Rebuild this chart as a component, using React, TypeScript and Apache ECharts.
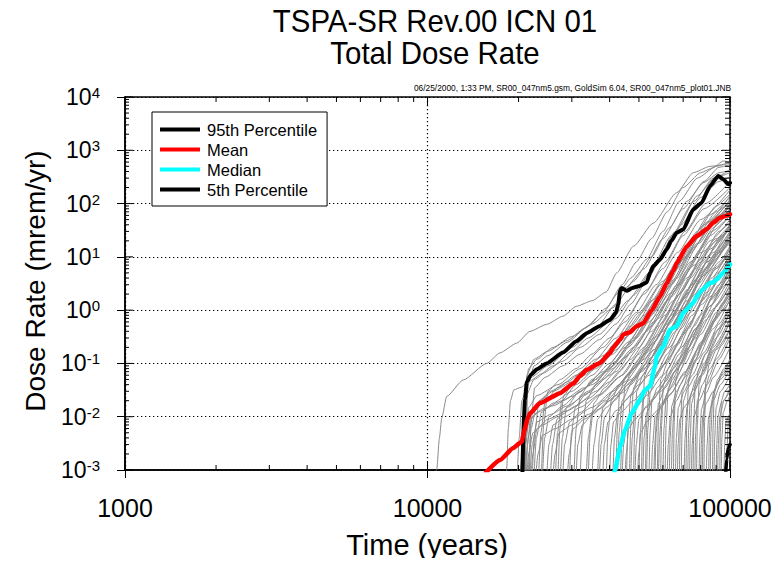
import React, { useEffect, useRef } from "react";
import * as echarts from "echarts";

const FONT = "'Liberation Sans', Arial, Helvetica, sans-serif";

type Pt = [number, number];

// Summary statistics of total dose rate (mrem/yr) vs time (years)
const p95: Pt[] = [
  [20600, 0.0009], [20700, 0.003], [20850, 0.01], [21000, 0.021], [21300, 0.045],
  [22000, 0.062], [23000, 0.078], [24750, 0.1], [28050, 0.16], [31040, 0.26],
  [33600, 0.37], [37000, 0.5], [40120, 0.66], [42000, 0.9], [42740, 1.3],
  [43300, 2.3], [43850, 2.6], [45550, 2.3], [47500, 2.6], [49770, 2.8],
  [53030, 3.3], [54390, 5.0], [55780, 6.7], [58700, 8.9], [61760, 13.8],
  [64000, 20], [66650, 28.4], [70080, 32.8], [75620, 78], [80620, 104],
  [85890, 214], [91470, 330], [95000, 286], [98700, 231], [100000, 245],
];

const mean: Pt[] = [
  [15600, 0.0009], [17370, 0.00154], [19210, 0.0026], [20480, 0.0034], [20900, 0.0055],
  [21400, 0.009], [21820, 0.0116], [23540, 0.018], [27420, 0.0277], [30340, 0.042],
  [31920, 0.058], [33600, 0.076], [37170, 0.102], [40120, 0.158], [41140, 0.2],
  [43300, 0.28], [44390, 0.35], [46500, 0.38], [49160, 0.5], [51690, 0.57],
  [55090, 1.0], [58700, 1.8], [61760, 3.2], [64950, 5.5], [66650, 7.6],
  [71920, 15.7], [77600, 24.5], [83750, 33], [88070, 44], [92650, 54],
  [96000, 58], [100000, 63],
];

const median: Pt[] = [
  [41500, 0.0009], [41680, 0.001], [43300, 0.0027], [44970, 0.0056], [47320, 0.0116],
  [50410, 0.021], [52360, 0.032], [54390, 0.037], [56490, 0.088], [57230, 0.136],
  [60190, 0.21], [63340, 0.43], [66650, 0.5], [70080, 0.89], [75620, 1.37],
  [77600, 1.8], [81000, 2.4], [85890, 3.26], [88000, 3.3], [90360, 3.76],
  [95000, 5.0], [100000, 7.2],
];

const p5: Pt[] = [
  [96800, 0.0009], [97500, 0.0016], [98700, 0.0026], [100000, 0.003],
];

// Individual realizations
const realizations: Pt[][] = [
  [[10500, 0.0008], [10725, 0.001], [10950, 0.004], [11140, 0.0093], [11570, 0.024], [13130, 0.049], [15700, 0.1], [17370, 0.158], [19720, 0.24], [21820, 0.4], [24750, 0.54], [28050, 0.77], [31040, 1.18], [35000, 1.5], [39000, 2.2], [42200, 5.0], [47900, 15.7], [55780, 43], [66650, 160], [75620, 380], [85890, 500], [100000, 570]],
  [[18100, 0.0008], [18270, 0.001], [18500, 0.006], [18800, 0.02], [19300, 0.032], [20500, 0.036], [22000, 0.055], [25000, 0.09], [30000, 0.2], [36000, 0.45], [42000, 1.3], [48000, 3.5], [55000, 10], [63000, 35], [72000, 110], [82000, 250], [92000, 380], [100000, 420]],
  [[20300, 0.0008], [20600, 0.003], [21000, 0.03], [21600, 0.08], [23000, 0.12], [26000, 0.2], [30000, 0.32], [35000, 0.55], [41000, 1.1], [45000, 2.6], [52000, 6], [60000, 22], [70000, 80], [82000, 260], [92000, 480], [100000, 540]],
  [[20500, 0.0008], [20800, 0.005], [21200, 0.025], [22500, 0.05], [26000, 0.09], [30000, 0.17], [34000, 0.3], [40000, 0.6], [46000, 1.5], [54000, 5], [64000, 25], [76000, 110], [88000, 300], [100000, 380]],
  [[20800, 0.0008], [21100, 0.004], [21600, 0.015], [23000, 0.025], [27000, 0.04], [32000, 0.08], [38000, 0.2], [45000, 0.6], [52000, 2], [60000, 6], [70000, 25], [82000, 80], [100000, 200]],
  [[21000, 0.0008], [21400, 0.003], [22000, 0.012], [24000, 0.022], [28000, 0.03], [33000, 0.06], [40000, 0.16], [47000, 0.5], [55000, 1.5], [65000, 6], [78000, 30], [90000, 90], [100000, 150]],
  [[21500, 0.0008], [22000, 0.006], [23000, 0.018], [26000, 0.03], [30000, 0.045], [36000, 0.09], [42000, 0.25], [50000, 0.9], [60000, 3.5], [72000, 15], [85000, 60], [100000, 130]],
  [[19800, 0.0008], [20100, 0.004], [20500, 0.02], [21500, 0.045], [24000, 0.065], [28000, 0.11], [32000, 0.2], [37000, 0.35], [42000, 0.7], [48000, 1.9], [56000, 6.5], [66000, 30], [78000, 140], [90000, 320], [100000, 420]],
  [[20600, 0.0008], [20900, 0.01], [21300, 0.06], [22500, 0.12], [25000, 0.17], [29000, 0.27], [33000, 0.45], [38000, 0.9], [43000, 2.2], [47000, 4], [53000, 9], [60000, 30], [68000, 110], [78000, 300], [90000, 500], [100000, 600]],
  [[21000, 0.0008], [21200, 0.006], [21500, 0.04], [22500, 0.09], [25000, 0.14], [29000, 0.25], [34000, 0.5], [39000, 1.1], [44000, 3], [49000, 8], [55000, 22], [62000, 70], [70000, 200], [80000, 380], [88000, 470], [95000, 630], [100000, 600]],
  [[20900, 0.0008], [21100, 0.003], [21600, 0.008], [23000, 0.012], [26000, 0.016], [30000, 0.024], [35000, 0.04], [41000, 0.09], [48000, 0.3], [56000, 1.0], [66000, 4], [78000, 18], [90000, 55], [100000, 85]],
  [[21200, 0.0008], [21500, 0.004], [22200, 0.01], [24000, 0.014], [28000, 0.02], [33000, 0.035], [39000, 0.07], [46000, 0.2], [54000, 0.6], [63000, 2], [74000, 8], [87000, 30], [100000, 60]],
  [[22000, 0.0008], [22300, 0.002], [23000, 0.006], [25000, 0.009], [29000, 0.013], [34000, 0.022], [40000, 0.045], [47000, 0.12], [55000, 0.4], [65000, 1.5], [77000, 6], [90000, 20], [100000, 35]],
  [[22500, 0.0008], [22900, 0.004], [23800, 0.012], [26000, 0.018], [30000, 0.03], [35000, 0.06], [41000, 0.15], [48000, 0.45], [56000, 1.6], [66000, 6], [78000, 25], [90000, 70], [100000, 110]],
  [[24000, 0.0008], [24400, 0.004], [25200, 0.01], [28000, 0.016], [32000, 0.03], [38000, 0.07], [45000, 0.2], [53000, 0.7], [62000, 2.5], [74000, 12], [88000, 45], [100000, 90]],
  [[25500, 0.0008], [25900, 0.003], [26800, 0.009], [29000, 0.015], [34000, 0.03], [40000, 0.08], [47000, 0.25], [55000, 0.8], [64000, 3], [76000, 15], [88000, 50], [100000, 75]],
  [[26500, 0.0008], [26900, 0.005], [27800, 0.02], [31000, 0.04], [36000, 0.08], [42000, 0.18], [49000, 0.5], [57000, 1.5], [67000, 6], [80000, 30], [100000, 120]],
  [[28000, 0.0008], [28400, 0.003], [29500, 0.008], [32000, 0.012], [37000, 0.025], [44000, 0.06], [52000, 0.2], [61000, 0.8], [72000, 4], [86000, 20], [100000, 50]],
  [[29500, 0.0008], [29900, 0.005], [30800, 0.015], [33000, 0.025], [38000, 0.05], [45000, 0.13], [53000, 0.4], [62000, 1.5], [73000, 6], [86000, 25], [100000, 60]],
  [[31000, 0.0008], [31400, 0.003], [32500, 0.007], [35000, 0.011], [40000, 0.02], [47000, 0.05], [56000, 0.18], [66000, 0.8], [78000, 3.5], [90000, 12], [100000, 25]],
  [[32000, 0.0008], [32500, 0.006], [33500, 0.02], [36000, 0.04], [41000, 0.08], [48000, 0.2], [56000, 0.6], [65000, 2.2], [76000, 9], [88000, 35], [100000, 80]],
  [[33500, 0.0008], [34000, 0.004], [35000, 0.012], [38000, 0.02], [43000, 0.04], [50000, 0.1], [58000, 0.35], [68000, 1.4], [80000, 6], [92000, 20], [100000, 35]],
  [[35000, 0.0008], [35500, 0.003], [36500, 0.009], [39000, 0.015], [44000, 0.028], [51000, 0.07], [60000, 0.25], [70000, 1], [82000, 4.5], [100000, 22]],
  [[36500, 0.0008], [37000, 0.004], [38000, 0.015], [41000, 0.03], [46000, 0.06], [53000, 0.16], [62000, 0.55], [72000, 2], [84000, 8], [100000, 40]],
  [[38000, 0.0008], [38400, 0.003], [39500, 0.008], [42000, 0.013], [47000, 0.025], [54000, 0.06], [63000, 0.2], [74000, 0.9], [87000, 4], [100000, 15]],
  [[39000, 0.0008], [39500, 0.005], [40500, 0.02], [43000, 0.04], [48000, 0.08], [55000, 0.22], [64000, 0.8], [75000, 3], [88000, 12], [100000, 30]],
  [[23300, 0.0008], [23700, 0.005], [24500, 0.02], [27000, 0.035], [31000, 0.06], [36000, 0.12], [42000, 0.3], [49000, 0.9], [57000, 3], [67000, 12], [80000, 50], [100000, 180]],
  [[27500, 0.0008], [27900, 0.004], [28800, 0.015], [31500, 0.028], [36000, 0.05], [42000, 0.11], [49000, 0.3], [57000, 1], [67000, 4], [79000, 18], [92000, 60], [100000, 95]],
  [[30500, 0.0008], [31000, 0.006], [32000, 0.025], [35000, 0.05], [40000, 0.1], [46000, 0.25], [53000, 0.7], [61000, 2.5], [71000, 10], [84000, 45], [100000, 140]],
  [[34000, 0.0008], [34500, 0.005], [35500, 0.018], [38500, 0.035], [43000, 0.07], [50000, 0.2], [58000, 0.7], [68000, 3], [80000, 14], [92000, 45], [100000, 70]],
  [[37000, 0.0008], [37500, 0.003], [38500, 0.01], [41500, 0.02], [46000, 0.04], [53000, 0.1], [62000, 0.35], [72000, 1.5], [85000, 7], [100000, 28]],
  [[41000, 0.0008], [41500, 0.004], [42500, 0.012], [45000, 0.02], [50000, 0.04], [57000, 0.1], [66000, 0.4], [77000, 1.6], [90000, 6], [100000, 12]],
  [[42500, 0.0008], [43000, 0.005], [44000, 0.02], [47000, 0.04], [52000, 0.08], [59000, 0.22], [68000, 0.8], [79000, 3.2], [92000, 12], [100000, 20]],
  [[44000, 0.0008], [44500, 0.003], [45500, 0.008], [48000, 0.013], [53000, 0.025], [60000, 0.06], [69000, 0.2], [80000, 0.8], [92000, 3], [100000, 6]],
  [[45500, 0.0008], [46000, 0.006], [47000, 0.025], [50000, 0.05], [55000, 0.1], [62000, 0.3], [71000, 1.1], [82000, 4.5], [100000, 25]],
  [[47000, 0.0008], [47500, 0.004], [48500, 0.015], [51500, 0.03], [56000, 0.05], [63000, 0.13], [72000, 0.45], [83000, 1.8], [100000, 10]],
  [[48500, 0.0008], [49000, 0.003], [50000, 0.009], [53000, 0.016], [58000, 0.03], [65000, 0.08], [74000, 0.3], [86000, 1.2], [100000, 4]],
  [[50000, 0.0008], [50500, 0.005], [51500, 0.02], [54500, 0.04], [59000, 0.08], [66000, 0.22], [75000, 0.8], [87000, 3.5], [100000, 11]],
  [[51500, 0.0008], [52000, 0.004], [53000, 0.012], [56000, 0.022], [61000, 0.045], [68000, 0.12], [77000, 0.45], [89000, 2], [100000, 5]],
  [[53000, 0.0008], [53500, 0.006], [54500, 0.03], [57500, 0.07], [62000, 0.15], [69000, 0.45], [78000, 1.6], [90000, 6], [100000, 14]],
  [[55000, 0.0008], [55500, 0.003], [56500, 0.01], [59500, 0.018], [64000, 0.035], [71000, 0.1], [80000, 0.35], [92000, 1.4], [100000, 3]],
  [[56500, 0.0008], [57000, 0.005], [58000, 0.018], [61000, 0.035], [66000, 0.07], [73000, 0.2], [82000, 0.7], [94000, 2.6], [100000, 4]],
  [[58000, 0.0008], [58500, 0.004], [59500, 0.015], [62500, 0.03], [67000, 0.06], [74000, 0.18], [83000, 0.65], [100000, 3.5]],
  [[60000, 0.0008], [60500, 0.006], [61500, 0.025], [64500, 0.05], [69000, 0.1], [76000, 0.3], [86000, 1.2], [100000, 6]],
  [[62000, 0.0008], [62500, 0.003], [63500, 0.01], [66500, 0.02], [71000, 0.04], [78000, 0.12], [88000, 0.45], [100000, 1.6]],
  [[64000, 0.0008], [64500, 0.005], [65500, 0.02], [68500, 0.04], [73000, 0.08], [80000, 0.25], [90000, 0.9], [100000, 2.5]],
  [[66000, 0.0008], [66500, 0.004], [67500, 0.015], [70500, 0.03], [75000, 0.06], [82000, 0.16], [92000, 0.55], [100000, 1.2]],
  [[68000, 0.0008], [68500, 0.006], [69500, 0.03], [72500, 0.06], [77000, 0.12], [84000, 0.35], [94000, 1.2], [100000, 2]],
  [[43500, 0.0008], [44000, 0.008], [45000, 0.04], [48000, 0.09], [53000, 0.2], [60000, 0.6], [69000, 2.2], [80000, 9], [92000, 30], [100000, 45]],
  [[46500, 0.0008], [47000, 0.007], [48000, 0.035], [51000, 0.08], [56000, 0.18], [63000, 0.55], [72000, 2], [84000, 8], [100000, 30]],
  [[52500, 0.0008], [53000, 0.007], [54000, 0.04], [57000, 0.09], [62000, 0.2], [69000, 0.6], [79000, 2.3], [92000, 8], [100000, 16]],
  [[57500, 0.0008], [58000, 0.008], [59000, 0.05], [62000, 0.1], [67000, 0.22], [74000, 0.6], [84000, 2.2], [100000, 9]],
  [[61000, 0.0008], [61500, 0.007], [62500, 0.035], [65500, 0.07], [70000, 0.15], [77000, 0.45], [87000, 1.6], [100000, 5]],
  [[70500, 0.0008], [71000, 0.004], [72000, 0.015], [75000, 0.03], [80000, 0.06], [88000, 0.2], [100000, 0.7]],
  [[72500, 0.0008], [73000, 0.006], [74000, 0.025], [77000, 0.05], [82000, 0.1], [90000, 0.3], [100000, 0.9]],
  [[74500, 0.0008], [75000, 0.003], [76000, 0.01], [79000, 0.02], [84000, 0.04], [92000, 0.12], [100000, 0.3]],
  [[76500, 0.0008], [77000, 0.005], [78000, 0.02], [81000, 0.04], [86000, 0.08], [94000, 0.22], [100000, 0.45]],
  [[79000, 0.0008], [79500, 0.004], [80500, 0.014], [83500, 0.028], [88000, 0.055], [100000, 0.2]],
  [[81000, 0.0008], [81500, 0.006], [82500, 0.03], [85500, 0.06], [90000, 0.12], [100000, 0.35]],
  [[83500, 0.0008], [84000, 0.003], [85000, 0.01], [88000, 0.02], [93000, 0.04], [100000, 0.08]],
  [[86000, 0.0008], [86500, 0.005], [87500, 0.02], [90500, 0.04], [95000, 0.07], [100000, 0.12]],
  [[88500, 0.0008], [89000, 0.004], [90000, 0.015], [93000, 0.03], [100000, 0.06]],
  [[91000, 0.0008], [91500, 0.003], [92500, 0.01], [95500, 0.02], [100000, 0.035]],
  [[93500, 0.0008], [94000, 0.004], [95000, 0.012], [98000, 0.02], [100000, 0.025]],
  [[95500, 0.0008], [96000, 0.003], [97000, 0.008], [100000, 0.012]],
  [[71500, 0.0008], [72000, 0.008], [73000, 0.05], [76000, 0.1], [81000, 0.22], [89000, 0.7], [100000, 2.4]],
  [[77500, 0.0008], [78000, 0.007], [79000, 0.04], [82000, 0.09], [87000, 0.2], [95000, 0.55], [100000, 0.9]],
  [[21300, 0.0008], [21600, 0.002], [22300, 0.005], [24000, 0.007], [27000, 0.01], [31000, 0.016], [36000, 0.03], [42000, 0.07], [49000, 0.22], [57000, 0.8], [67000, 3], [80000, 12], [100000, 40]],
  [[21800, 0.0008], [22200, 0.003], [23000, 0.008], [25500, 0.011], [29000, 0.016], [34000, 0.028], [40000, 0.06], [47000, 0.16], [55000, 0.5], [64000, 1.8], [76000, 7], [90000, 22], [100000, 32]],
  [[22800, 0.0008], [23200, 0.002], [24000, 0.0045], [26500, 0.006], [30000, 0.009], [35000, 0.015], [41000, 0.03], [48000, 0.08], [56000, 0.25], [66000, 1], [78000, 4], [92000, 12], [100000, 18]],
  [[24800, 0.0008], [25200, 0.003], [26000, 0.007], [28500, 0.01], [32000, 0.015], [37000, 0.026], [43000, 0.055], [50000, 0.15], [58000, 0.5], [68000, 2], [80000, 8], [100000, 38]],
  [[26000, 0.0008], [26400, 0.002], [27200, 0.005], [30000, 0.007], [34000, 0.011], [39000, 0.02], [45000, 0.045], [52000, 0.12], [60000, 0.4], [70000, 1.6], [83000, 6], [100000, 20]],
  [[27000, 0.0008], [27400, 0.006], [28200, 0.025], [30500, 0.045], [34000, 0.07], [39000, 0.13], [45000, 0.3], [52000, 0.8], [60000, 2.5], [70000, 9], [83000, 35], [100000, 100]],
  [[29000, 0.0008], [29400, 0.002], [30300, 0.006], [33000, 0.009], [37000, 0.014], [42000, 0.025], [48000, 0.05], [55000, 0.13], [64000, 0.45], [75000, 1.8], [88000, 6], [100000, 12]],
  [[22200, 0.0008], [22600, 0.005], [23400, 0.02], [25500, 0.03], [29000, 0.045], [33000, 0.075], [38000, 0.14], [44000, 0.32], [51000, 0.9], [59000, 3], [69000, 11], [82000, 40], [100000, 110]],
  [[40000, 0.0008], [40400, 0.003], [41200, 0.008], [43500, 0.012], [48000, 0.02], [54000, 0.04], [61000, 0.1], [70000, 0.35], [81000, 1.3], [94000, 4.5], [100000, 7]],
  [[42000, 0.0008], [42400, 0.006], [43200, 0.03], [45500, 0.06], [50000, 0.12], [56000, 0.3], [64000, 1], [74000, 4], [86000, 14], [100000, 40]],
  [[45000, 0.0008], [45400, 0.002], [46200, 0.006], [48500, 0.009], [53000, 0.015], [59000, 0.03], [67000, 0.08], [77000, 0.3], [89000, 1.1], [100000, 2.8]],
  [[48000, 0.0008], [48400, 0.006], [49200, 0.03], [51500, 0.06], [56000, 0.12], [62000, 0.32], [70000, 1.1], [80000, 4], [92000, 13], [100000, 22]],
  [[49500, 0.0008], [49900, 0.002], [50700, 0.005], [53000, 0.008], [57500, 0.013], [63000, 0.025], [71000, 0.07], [81000, 0.25], [93000, 0.9], [100000, 1.5]],
  [[51000, 0.0008], [51400, 0.01], [52200, 0.06], [54500, 0.12], [58500, 0.25], [64000, 0.7], [72000, 2.4], [82000, 8], [94000, 25], [100000, 35]],
  [[54000, 0.0008], [54400, 0.005], [55200, 0.02], [57500, 0.035], [62000, 0.06], [68000, 0.15], [76000, 0.5], [86000, 1.8], [100000, 7]],
  [[56000, 0.0008], [56400, 0.003], [57200, 0.01], [59500, 0.016], [64000, 0.028], [70000, 0.06], [78000, 0.18], [88000, 0.6], [100000, 1.8]],
  [[59000, 0.0008], [59400, 0.007], [60200, 0.04], [62500, 0.08], [67000, 0.16], [73000, 0.45], [81000, 1.5], [91000, 5], [100000, 11]],
  [[63000, 0.0008], [63400, 0.004], [64200, 0.016], [66500, 0.03], [71000, 0.055], [77000, 0.14], [85000, 0.45], [95000, 1.4], [100000, 2]],
  [[65000, 0.0008], [65400, 0.008], [66200, 0.05], [68500, 0.1], [73000, 0.2], [79000, 0.55], [87000, 1.7], [100000, 6]],
  [[67000, 0.0008], [67400, 0.003], [68200, 0.009], [70500, 0.015], [75000, 0.025], [81000, 0.06], [89000, 0.18], [100000, 0.6]],
  [[69000, 0.0008], [69400, 0.005], [70200, 0.02], [72500, 0.035], [77000, 0.06], [83000, 0.15], [92000, 0.45], [100000, 0.9]],
  [[73500, 0.0008], [73900, 0.004], [74700, 0.018], [77000, 0.035], [81500, 0.07], [88000, 0.18], [100000, 0.6]],
  [[75500, 0.0008], [75900, 0.007], [76700, 0.04], [79000, 0.08], [83500, 0.16], [90000, 0.4], [100000, 1.1]],
  [[80000, 0.0008], [80400, 0.003], [81200, 0.01], [83500, 0.018], [88000, 0.03], [94000, 0.06], [100000, 0.1]],
  [[82000, 0.0008], [82400, 0.008], [83200, 0.05], [85500, 0.1], [90000, 0.18], [100000, 0.45]],
  [[85000, 0.0008], [85400, 0.004], [86200, 0.015], [88500, 0.03], [93000, 0.05], [100000, 0.09]],
  [[87500, 0.0008], [87900, 0.006], [88700, 0.03], [91000, 0.05], [95500, 0.08], [100000, 0.12]],
  [[90000, 0.0008], [90400, 0.003], [91200, 0.01], [93500, 0.018], [100000, 0.03]],
  [[92500, 0.0008], [92900, 0.005], [93700, 0.02], [96000, 0.03], [100000, 0.04]],
  [[97500, 0.0008], [97900, 0.003], [98700, 0.008], [100000, 0.01]],
  [[21700, 0.0008], [22000, 0.008], [22600, 0.035], [24500, 0.055], [28000, 0.09], [32000, 0.15], [37000, 0.28], [42000, 0.55], [47000, 1.3], [53000, 3.5], [60000, 11], [69000, 40], [80000, 130], [92000, 260], [100000, 320]],
  [[23800, 0.0008], [24200, 0.007], [25000, 0.03], [27500, 0.05], [31000, 0.08], [35000, 0.15], [40000, 0.3], [46000, 0.8], [53000, 2.4], [61000, 8], [71000, 30], [83000, 100], [100000, 260]],
];

// Axis ranges and tick positions
const X_MIN = 1000;
const X_MAX = 100000;
const Y_MIN = 0.001;
const Y_MAX = 10000;
const xDecades = [1000, 10000, 100000];
const yDecades = [0.001, 0.01, 0.1, 1, 10, 100, 1000, 10000];
const minorSteps = [2, 3, 4, 5, 6, 7, 8, 9];

const legendNames = ["95th Percentile", "Mean", "Median", "5th Percentile"];

type TickSpec = { x: number; y: number; dx: number; dy: number; len: number };

function buildFrameTicks(): TickSpec[] {
  const specs: TickSpec[] = [];
  const MAJOR = 8;
  const MINOR = 5;
  xDecades.forEach((d, i) => {
    specs.push({ x: d, y: Y_MIN, dx: 0, dy: -1, len: MAJOR });
    specs.push({ x: d, y: Y_MAX, dx: 0, dy: 1, len: MAJOR });
    if (i < xDecades.length - 1) {
      minorSteps.forEach((k) => {
        specs.push({ x: d * k, y: Y_MIN, dx: 0, dy: -1, len: MINOR });
        specs.push({ x: d * k, y: Y_MAX, dx: 0, dy: 1, len: MINOR });
      });
    }
  });
  yDecades.forEach((d, i) => {
    specs.push({ x: X_MIN, y: d, dx: 1, dy: 0, len: MAJOR });
    specs.push({ x: X_MAX, y: d, dx: -1, dy: 0, len: MAJOR });
    if (i < yDecades.length - 1) {
      minorSteps.forEach((k) => {
        specs.push({ x: X_MIN, y: d * k, dx: 1, dy: 0, len: MINOR - 1 });
        specs.push({ x: X_MAX, y: d * k, dx: -1, dy: 0, len: MINOR });
      });
    }
  });
  return specs;
}

const centeredText = (
  text: string,
  x: number,
  y: number,
  fontSize: number,
  extra: Record<string, unknown> = {},
  align = "center"
) => ({
  type: "text",
  x,
  y,
  ...extra,
  style: {
    text,
    fontFamily: FONT,
    fontSize,
    fill: "#000",
    textAlign: align,
    textVerticalAlign: "middle",
  },
});

export default function App() {
  const ref = useRef<HTMLDivElement | null>(null);

  useEffect(() => {
    if (!ref.current) return;
    const chart = echarts.init(ref.current, undefined, { renderer: "svg" });
    const ticks = buildFrameTicks();

    const graySeries = realizations.map((d) => ({
      type: "line",
      data: d,
      symbol: "none",
      showSymbol: false,
      smooth: 0.2,
      smoothMonotone: "x",
      clip: true,
      silent: true,
      z: 2,
      emphasis: { disabled: true },
      lineStyle: { color: "#8a8a8a", width: 1 },
    }));

    const statLine = (name: string, data: Pt[], color: string, width: number) => ({
      name,
      type: "line",
      data,
      symbol: "none",
      showSymbol: false,
      smooth: 0.15,
      smoothMonotone: "x",
      clip: true,
      silent: true,
      z: 3,
      emphasis: { disabled: true },
      itemStyle: { color },
      lineStyle: { color, width, join: "round", cap: "round" },
    });

    const option: any = {
      animation: false,
      backgroundColor: "#ffffff",
      grid: {
        left: 125,
        right: 54,
        top: 97,
        bottom: 96,
        show: true,
        borderColor: "#000",
        borderWidth: 1.5,
        backgroundColor: "transparent",
      },
      legend: {
        data: legendNames,
        orient: "vertical",
        left: 152,
        top: 112,
        icon: "rect",
        itemWidth: 40,
        itemHeight: 4,
        itemGap: 3,
        padding: [9, 10, 8, 8],
        borderColor: "#000",
        borderWidth: 1,
        backgroundColor: "#fff",
        selectedMode: false,
        textStyle: {
          fontFamily: FONT,
          fontSize: 16.5,
          color: "#000",
          lineHeight: 17,
          padding: [0, 0, 0, 2],
        },
        z: 10,
      },
      xAxis: {
        type: "log",
        logBase: 10,
        min: X_MIN,
        max: X_MAX,
        axisLine: { show: true, lineStyle: { color: "#000", width: 1.5 } },
        axisTick: { show: true, inside: false, length: 8, lineStyle: { color: "#000", width: 1 } },
        minorTick: { show: false },
        axisLabel: {
          show: true,
          margin: 25,
          color: "#000",
          fontFamily: FONT,
          fontSize: 25,
          formatter: (v: number) => String(Math.round(v)),
        },
        splitLine: { show: true, lineStyle: { color: "#000", width: 1.2, type: [1.3, 2.7] } },
      },
      yAxis: {
        type: "log",
        logBase: 10,
        min: Y_MIN,
        max: Y_MAX,
        axisLine: { show: true, lineStyle: { color: "#000", width: 1.5 } },
        axisTick: { show: true, inside: false, length: 8, lineStyle: { color: "#000", width: 1 } },
        minorTick: { show: false },
        axisLabel: {
          show: true,
          margin: 25,
          color: "#000",
          fontFamily: FONT,
          formatter: (v: number) => `{b|10}{s|${Math.round(Math.log10(v))}}`,
          rich: {
            b: { fontFamily: FONT, fontSize: 23, lineHeight: 24, color: "#000" },
            s: { fontFamily: FONT, fontSize: 15, lineHeight: 15, color: "#000", verticalAlign: "top" },
          },
        },
        splitLine: { show: true, lineStyle: { color: "#000", width: 1.2, type: [1.3, 2.7] } },
      },
      graphic: [
        centeredText("TSPA-SR Rev.00 ICN 01", 435, 21, 32, { scaleX: 0.92 }),
        centeredText("Total Dose Rate", 435, 53, 32, { scaleX: 0.92 }),
        centeredText(
          "06/25/2000, 1:33 PM, SR00_047nm5.gsm, GoldSim 6.04, SR00_047nm5_plot01.JNB",
          731,
          88,
          9.5,
          { scaleX: 0.88 },
          "right"
        ),
        centeredText("Dose Rate (mrem/yr)", 35, 281, 28, { rotation: Math.PI / 2 }),
        centeredText("Time (years)", 427, 545, 29),
      ],
      series: [
        ...graySeries,
        statLine("95th Percentile", p95, "#000000", 4),
        statLine("Mean", mean, "#ff0000", 4.5),
        statLine("Median", median, "#00ffff", 4.5),
        statLine("5th Percentile", p5, "#000000", 3.5),
        {
          type: "custom",
          coordinateSystem: "cartesian2d",
          data: ticks.map((t) => [t.x, t.y]),
          encode: { x: 0, y: 1 },
          clip: false,
          silent: true,
          z: 6,
          renderItem: (params: any, api: any) => {
            const t = ticks[params.dataIndex];
            const p = api.coord([t.x, t.y]);
            return {
              type: "line",
              shape: { x1: p[0], y1: p[1], x2: p[0] + t.dx * t.len, y2: p[1] + t.dy * t.len },
              style: { stroke: "#000", lineWidth: 1 },
            };
          },
        },
      ],
    };

    chart.setOption(option);
    return () => {
      chart.dispose();
    };
  }, []);

  return <div ref={ref} style={{ width: 784, height: 566, margin: -8 }} />;
}
